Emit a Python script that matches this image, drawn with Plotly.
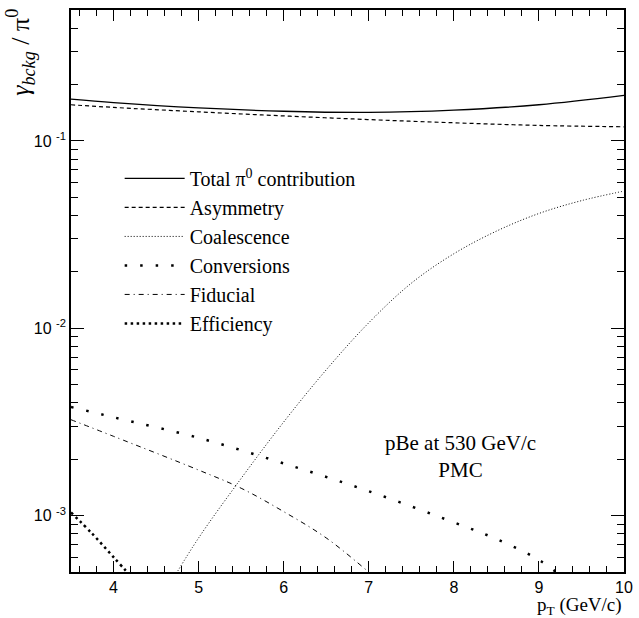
import plotly.graph_objects as go

# ---- data ----
x_total = [3.5, 4.0, 5.0, 6.0, 7.0, 8.0, 9.0, 10.0]
y_total = [0.167, 0.160, 0.150, 0.144, 0.142, 0.146, 0.156, 0.175]

x_asym = [3.5, 4.0, 5.0, 6.0, 7.0, 8.0, 9.0, 10.0]
y_asym = [0.156, 0.151, 0.143, 0.136, 0.130, 0.125, 0.121, 0.119]

x_coal = [4.7, 5.0, 5.5, 6.0, 6.5, 7.0, 7.5, 8.0, 8.5, 9.0, 9.5, 10.0]
y_coal = [4.6e-4, 7.6e-4, 1.58e-3, 3.16e-3, 6.0e-3, 1.07e-2, 1.74e-2, 2.5e-2, 3.3e-2, 4.1e-2, 4.8e-2, 5.4e-2]

x_conv = [3.5, 4.0, 5.0, 6.0, 7.0, 8.0, 8.5, 9.0, 9.3]
y_conv = [3.8e-3, 3.35e-3, 2.6e-3, 1.9e-3, 1.35e-3, 9.2e-4, 7.5e-4, 5.8e-4, 4.6e-4]

x_fid = [3.5, 4.0, 5.0, 5.5, 6.0, 6.5, 7.0, 7.2]
y_fid = [3.25e-3, 2.65e-3, 1.75e-3, 1.4e-3, 1.05e-3, 7.6e-4, 5.0e-4, 4.2e-4]

x_eff = [3.5, 3.75, 4.0, 4.25]
y_eff = [1.04e-3, 8.0e-4, 6.0e-4, 4.5e-4]

names = ["Total π<sup>0</sup> contribution", "Asymmetry", "Coalescence",
         "Conversions", "Fiducial", "Efficiency"]

x_ticks = [4, 5, 6, 7, 8, 9, 10]
y_ticks = [1e-3, 1e-2, 1e-1]
y_ticktext = ["10 <sup>-3</sup>", "10 <sup>-2</sup>", "10 <sup>-1</sup>"]

series = [
    (x_total, y_total, dict(color="black", width=1.3, dash="solid")),
    (x_asym, y_asym, dict(color="black", width=1.2, dash="4px,3px")),
    (x_coal, y_coal, dict(color="black", width=1.0, dash="1px,2px")),
    (x_conv, y_conv, dict(color="black", width=2.5, dash="2.5px,13px")),
    (x_fid, y_fid, dict(color="black", width=1.0, dash="5px,4px,1px,4px")),
    (x_eff, y_eff, dict(color="black", width=2.5, dash="2.5px,3.5px")),
]

fig = go.Figure()
for (xs, ys, ln), nm in zip(series, names):
    fig.add_trace(go.Scatter(x=xs, y=ys, mode="lines", name=nm, line=ln,
                             line_shape="spline"))

minor_y = []
for d in [1e-4, 1e-3, 1e-2, 1e-1]:
    for m in range(2, 10):
        v = m * d
        if 5e-4 <= v <= 0.5:
            minor_y.append(v)
minor_x = []
for k in range(33):
    v = round(3.6 + 0.2 * k, 1)
    if v < 10 and abs(v - round(v)) > 1e-6:
        minor_x.append(v)

axis_font = dict(family="Liberation Sans, Arial, sans-serif", size=16, color="black")
serif = "Liberation Serif, Times New Roman, serif"

fig.update_layout(
    width=639, height=618,
    margin=dict(l=71, r=6, t=10, b=46),
    paper_bgcolor="white", plot_bgcolor="white",
    showlegend=True,
    legend=dict(x=0.088, y=0.735, xanchor="left", yanchor="top",
                bgcolor="rgba(0,0,0,0)", borderwidth=0,
                font=dict(family=serif, size=20, color="black"),
                itemwidth=60, itemclick=False),
    xaxis=dict(range=[3.5, 10], showgrid=False, zeroline=False,
               showline=True, linecolor="black", linewidth=1.5, mirror="ticks",
               ticks="inside", ticklen=11, tickwidth=1, tickcolor="black",
               tickvals=x_ticks, ticktext=[str(v) for v in x_ticks],
               tickfont=axis_font, ticklabeloverflow="allow",
               minor=dict(tickvals=minor_x, ticks="inside", ticklen=6,
                          tickcolor="black", showgrid=False)),
    yaxis=dict(type="log", range=[-3.30103, -0.30103], showgrid=False, zeroline=False,
               showline=True, linecolor="black", linewidth=1.5, mirror="ticks",
               ticks="inside", ticklen=13, tickwidth=1, tickcolor="black",
               tickvals=y_ticks, ticktext=y_ticktext,
               tickfont=dict(family="Liberation Sans, Arial, sans-serif", size=16, color="black"),
               minor=dict(tickvals=minor_y, ticks="inside", ticklen=7,
                          tickcolor="black", showgrid=False)),
    annotations=[
        dict(text="<i>γ<sub>bckg</sub></i> / π<sup>0</sup>", xref="paper", yref="paper",
             x=-0.092, y=1.005, xanchor="center", yanchor="top", textangle=-90,
             showarrow=False, font=dict(family=serif, size=26, color="black")),
        dict(text="p<sub>T</sub> (GeV/c)", xref="paper", yref="paper",
             x=1.0, y=-0.036, xanchor="right", yanchor="top",
             showarrow=False, font=dict(family=serif, size=19, color="black")),
        dict(text="pBe at 530 GeV/c<br>PMC", xref="paper", yref="paper",
             x=0.705, y=0.205, xanchor="center", yanchor="middle", align="center",
             showarrow=False, font=dict(family=serif, size=21, color="black")),
    ],
)

fig.write_html("out.html")
